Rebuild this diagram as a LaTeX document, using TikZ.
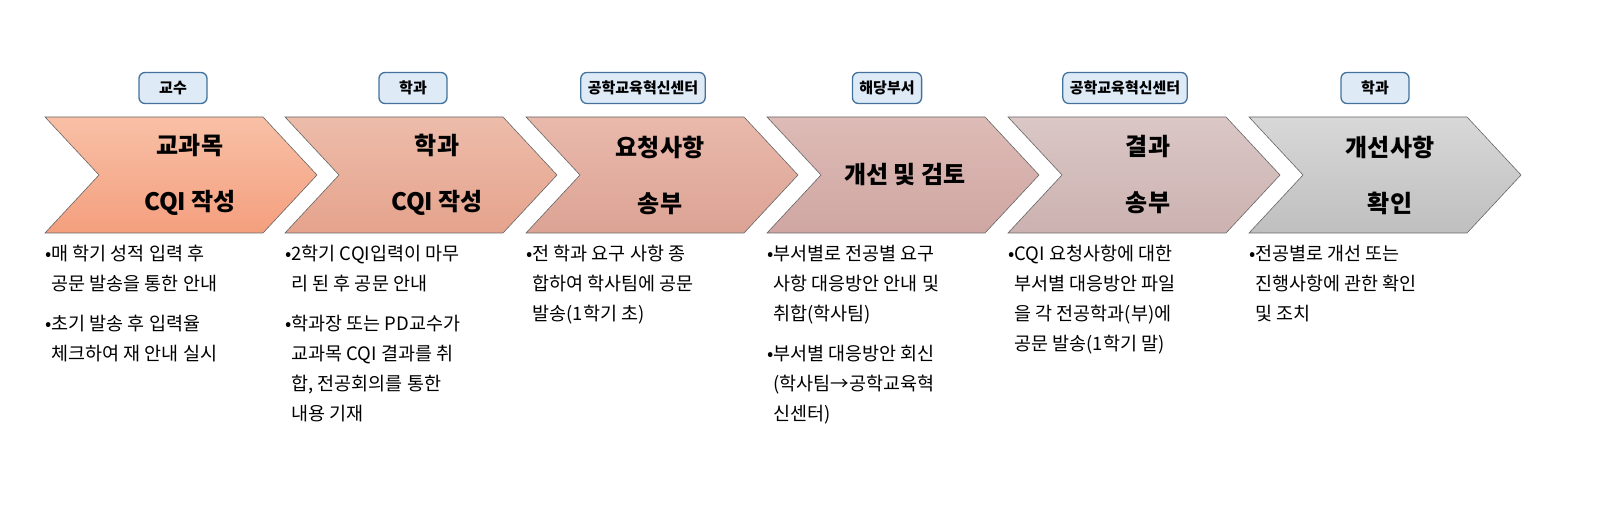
\documentclass[tikz,border=0pt]{standalone}
\usepackage{fontspec}
\setmainfont{Noto Sans CJK KR}
\begin{document}
\begin{tikzpicture}[x=1pt,y=-1pt,
 lab/.style={draw=lblb,line width=1.3pt,fill=lblf,rounded corners=6pt,minimum height=31pt,minimum width=68pt,font=\fontsize{15}{15}\selectfont\bfseries,inner xsep=7pt,inner ysep=0pt},
 head/.style={font=\fontsize{24}{56}\selectfont\bfseries,align=center},
 bul/.style={font=\fontsize{18.5}{30}\selectfont,align=left,anchor=north west,inner sep=0pt}]
\definecolor{lblb}{HTML}{41719C}\definecolor{lblf}{HTML}{DEEBF7}
\definecolor{t1}{HTML}{F8C0A6}\definecolor{b1}{HTML}{F49F7E}
\definecolor{t2}{HTML}{EDBCAA}\definecolor{b2}{HTML}{E5A38D}
\definecolor{t3}{HTML}{E9B9AC}\definecolor{b3}{HTML}{DCA394}
\definecolor{t4}{HTML}{DEBBB6}\definecolor{b4}{HTML}{CFA6A2}
\definecolor{t5}{HTML}{DAC7C6}\definecolor{b5}{HTML}{CCB2B0}
\definecolor{t6}{HTML}{D8D8D8}\definecolor{b6}{HTML}{BFBFBF}
\useasboundingbox (0,0) rectangle (1602,510);
\foreach \i/\x in {1/45,2/285,3/526,4/767,5/1008,6/1249}{
 \shade[top color=t\i,bottom color=b\i,draw=gray!80!black,line width=0.6pt]
 (\x,117) -- (\x+218,117) -- (\x+272,175) -- (\x+218,233) -- (\x,233) -- (\x+54,175) -- cycle;}
\node[lab] (l1) at (173,88) {교수};
\node[lab] (l2) at (413,88) {학과};
\node[lab] (l3) at (643,88) {공학교육혁신센터};
\node[lab] (l4) at (887,88) {해당부서};
\node[lab] (l5) at (1125,88) {공학교육혁신센터};
\node[lab] (l6) at (1375,88) {학과};
\node[head] (h1) at (190,175) {교과목\\CQI 작성};
\node[head] (h2) at (437,175) {학과\\CQI 작성};
\node[head] (h3) at (660,175) {요청사항\\송부};
\node[head] (h4) at (905,175) {개선 및 검토};
\node[head] (h5) at (1148,175) {결과\\송부};
\node[head] (h6) at (1390,175) {개선사항\\확인};
\node[bul] (d1) at (45,245) {•매 학기 성적 입력 후\\\phantom{•}공문 발송을 통한 안내\\[10pt]•초기 발송 후 입력율\\\phantom{•}체크하여 재 안내 실시};
\node[bul] (d2) at (285,245) {•2학기 CQI입력이 마무\\\phantom{•}리 된 후 공문 안내\\[10pt]•학과장 또는 PD교수가\\\phantom{•}교과목 CQI 결과를 취\\\phantom{•}합, 전공회의를 통한\\\phantom{•}내용 기재};
\node[bul] (d3) at (526,245) {•전 학과 요구 사항 종\\\phantom{•}합하여 학사팀에 공문\\\phantom{•}발송(1학기 초)};
\node[bul] (d4) at (767,245) {•부서별로 전공별 요구\\\phantom{•}사항 대응방안 안내 및\\\phantom{•}취합(학사팀)\\[10pt]•부서별 대응방안 회신\\\phantom{•}(학사팀→공학교육혁\\\phantom{•}신센터)};
\node[bul] (d5) at (1008,245) {•CQI 요청사항에 대한\\\phantom{•}부서별 대응방안 파일\\\phantom{•}을 각 전공학과(부)에\\\phantom{•}공문 발송(1학기 말)};
\node[bul] (d6) at (1249,245) {•전공별로 개선 또는\\\phantom{•}진행사항에 관한 확인\\\phantom{•}및 조치};
\end{tikzpicture}
\end{document}
